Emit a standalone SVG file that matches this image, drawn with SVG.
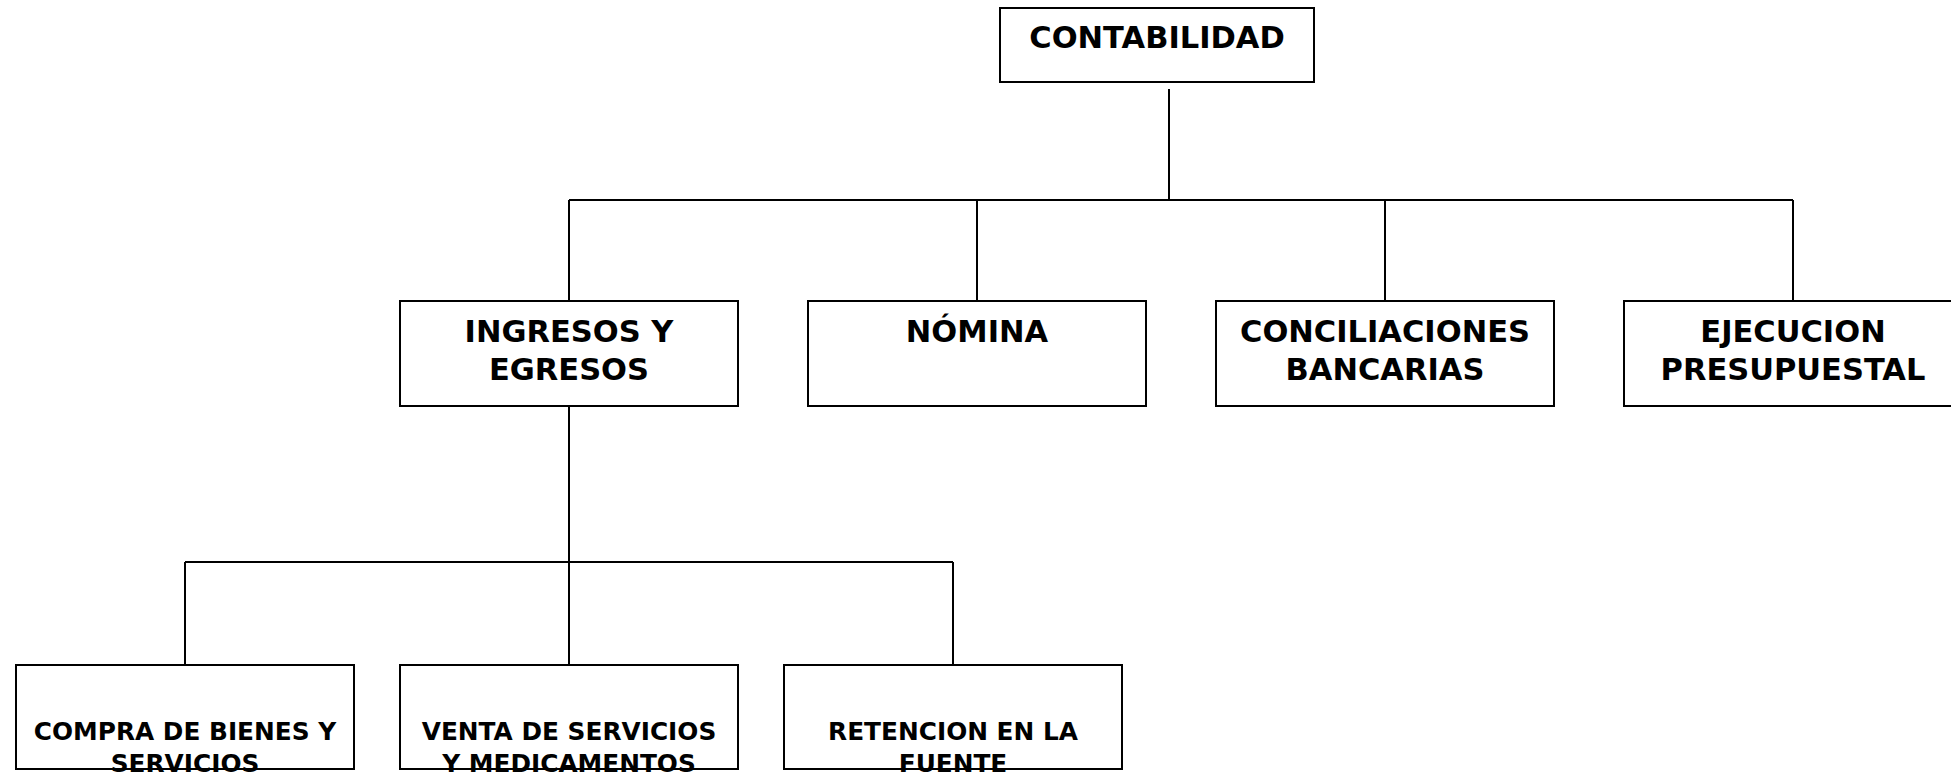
<svg xmlns="http://www.w3.org/2000/svg" width="1951" height="773" viewBox="0 0 1951 773">
<style>
.box{fill:#fff;stroke:#000;stroke-width:2}
.ln{stroke:#000;stroke-width:2;fill:none}
.t1{font-family:"DejaVu Sans",Verdana,sans-serif;font-weight:bold;font-size:30.5px;fill:#000;text-anchor:middle}
.t2{font-family:"DejaVu Sans",Verdana,sans-serif;font-weight:bold;font-size:24.8px;fill:#000;text-anchor:middle}
</style>
<rect width="1951" height="773" fill="#fff"/>
<g id="connectors">
<line class="ln" x1="1169" y1="89" x2="1169" y2="200"/>
<line class="ln" x1="569" y1="200" x2="1793" y2="200"/>
<line class="ln" x1="569" y1="200" x2="569" y2="301"/>
<line class="ln" x1="977" y1="200" x2="977" y2="301"/>
<line class="ln" x1="1385" y1="200" x2="1385" y2="301"/>
<line class="ln" x1="1793" y1="200" x2="1793" y2="301"/>
<line class="ln" x1="569" y1="406" x2="569" y2="665"/>
<line class="ln" x1="185" y1="562" x2="953" y2="562"/>
<line class="ln" x1="185" y1="562" x2="185" y2="665"/>
<line class="ln" x1="953" y1="562" x2="953" y2="665"/>
</g>
<g id="contabilidad">
<rect class="box" x="1000" y="8" width="314" height="74"/>
<text class="t1" x="1157" y="48">CONTABILIDAD</text>
</g>
<g id="ingresos">
<rect class="box" x="400" y="301" width="338" height="105"/>
<text class="t1" x="569" y="342">INGRESOS Y</text>
<text class="t1" x="569" y="380">EGRESOS</text>
</g>
<g id="nomina">
<rect class="box" x="808" y="301" width="338" height="105"/>
<text class="t1" x="977" y="342">NÓMINA</text>
</g>
<g id="conciliaciones">
<rect class="box" x="1216" y="301" width="338" height="105"/>
<text class="t1" x="1385" y="342">CONCILIACIONES</text>
<text class="t1" x="1385" y="380">BANCARIAS</text>
</g>
<g id="ejecucion">
<rect class="box" x="1624" y="301" width="338" height="105"/>
<text class="t1" x="1793" y="342">EJECUCION</text>
<text class="t1" x="1793" y="380">PRESUPUESTAL</text>
</g>
<g id="compra">
<rect class="box" x="16" y="665" width="338" height="104"/>
<text class="t2" x="185" y="740">COMPRA DE BIENES Y</text>
<text class="t2" x="185" y="772">SERVICIOS</text>
</g>
<g id="venta">
<rect class="box" x="400" y="665" width="338" height="104"/>
<text class="t2" x="569" y="740">VENTA DE SERVICIOS</text>
<text class="t2" x="569" y="772">Y MEDICAMENTOS</text>
</g>
<g id="retencion">
<rect class="box" x="784" y="665" width="338" height="104"/>
<text class="t2" x="953" y="740">RETENCION EN LA</text>
<text class="t2" x="953" y="772">FUENTE</text>
</g>
</svg>
